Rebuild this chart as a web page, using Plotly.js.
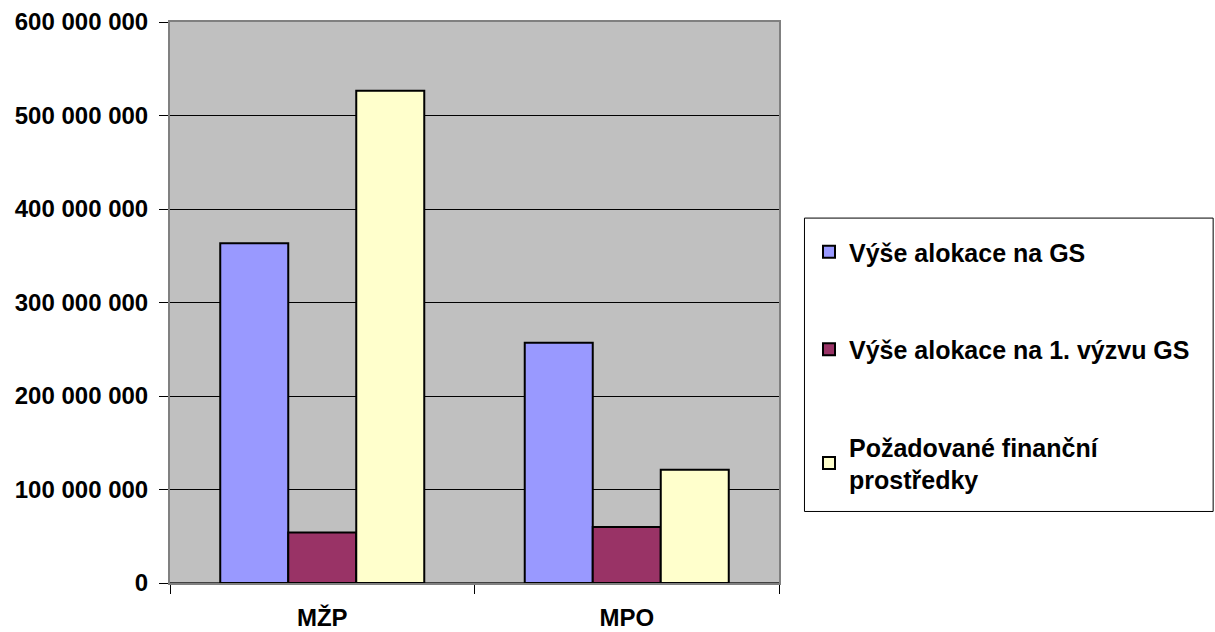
<!DOCTYPE html>
<html>
<head>
<meta charset="utf-8">
<script src="https://cdn.plot.ly/plotly-3.0.1.min.js"></script>
<style>
  html, body { margin: 0; padding: 0; background: #ffffff; }
  #chart { width: 1215px; height: 632px; }
</style>
</head>
<body>
<div id="chart"></div>
<script>
// Categories (ministries)
const categories = ['MŽP', 'MPO'];

// Series names
const seriesNames = [
  'Výše alokace na GS',
  'Výše alokace na 1. výzvu GS',
  'Požadované finanční<br>prostředky'
];

// Series values (CZK)
const allocationGS = [363500000, 257000000];
const allocationCall1 = [54000000, 60000000];
const requestedFunds = [526500000, 121000000];

const seriesColors = ['#9999FF', '#993366', '#FFFFCC'];

const FONT = 'Liberation Sans, Arial, Helvetica, sans-serif';

const seriesValues = [allocationGS, allocationCall1, requestedFunds];

const traces = seriesValues.map((vals, i) => ({
  type: 'bar',
  name: seriesNames[i],
  x: categories,
  y: vals,
  legendgroup: 'g' + i,
  marker: { color: seriesColors[i], line: { color: '#000000', width: 2 } },
  hoverinfo: 'x+y+name'
}));

const W = 1215, H = 632;
const plotL = 169.5, plotR = 779, plotT = 21.7, plotB = 583.3;
const pw = plotR - plotL, ph = plotB - plotT;
const px = v => (v - plotL) / pw;
const py = v => (plotB - v) / ph;

const layout = {
  width: W,
  height: H,
  margin: { l: plotL, r: W - plotR, t: plotT, b: H - plotB, pad: 0 },
  paper_bgcolor: '#ffffff',
  plot_bgcolor: '#C0C0C0',
  separators: ', ',
  font: { family: FONT, size: 24, color: '#000000', weight: 'bold' },
  barmode: 'group',
  bargap: 0.33,
  bargroupgap: 0,
  showlegend: true,
  legend: {
    xref: 'container', yref: 'container',
    x: 809 / W, xanchor: 'left',
    y: 1 - 229 / H, yanchor: 'top',
    bgcolor: 'rgba(0,0,0,0)',
    borderwidth: 0,
    tracegroupgap: 62,
    traceorder: 'grouped',
    font: { family: FONT, size: 25, color: '#000000', weight: 'bold' }
  },
  xaxis: {
    type: 'category',
    showgrid: false,
    ticks: 'outside',
    tickson: 'boundaries',
    ticklen: 9,
    tickcolor: '#000000',
    tickwidth: 1,
    showline: true,
    linecolor: '#808080',
    linewidth: 2,
    mirror: true,
    ticklabelstandoff: 12,
    tickfont: { family: FONT, size: 24, color: '#000000', weight: 'bold' }
  },
  yaxis: {
    range: [0, 600000000],
    tickmode: 'linear',
    tick0: 0,
    dtick: 100000000,
    tickformat: ',.0f',
    showgrid: true,
    gridcolor: '#000000',
    gridwidth: 1,
    zeroline: true,
    zerolinecolor: '#404040',
    zerolinewidth: 2,
    ticks: 'outside',
    ticklen: 9,
    tickcolor: '#000000',
    tickwidth: 1,
    showline: true,
    linecolor: '#808080',
    linewidth: 2,
    mirror: true,
    ticklabelstandoff: 6,
    tickfont: { family: FONT, size: 24, color: '#000000', weight: 'bold' }
  },
  shapes: [
    {
      type: 'rect', xref: 'paper', yref: 'paper', layer: 'below',
      x0: px(804.5), x1: px(1213.5), y0: py(511.7), y1: py(218),
      line: { color: '#000000', width: 1 },
      fillcolor: '#ffffff'
    }
  ]
};

Plotly.newPlot('chart', traces, layout, { displayModeBar: false, staticPlot: true });
</script>
</body>
</html>
